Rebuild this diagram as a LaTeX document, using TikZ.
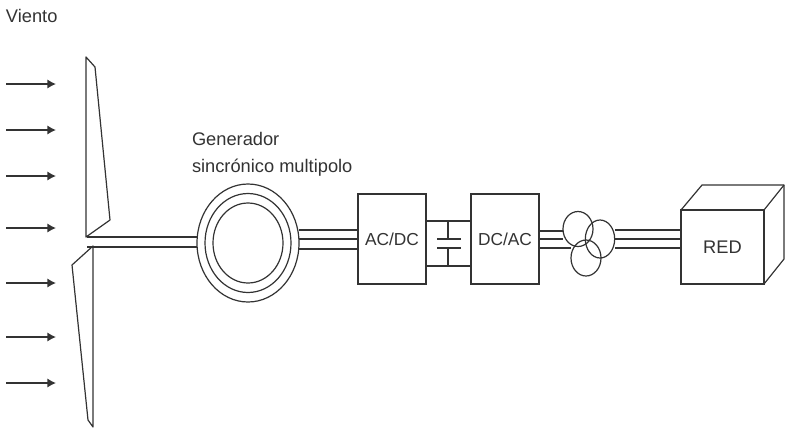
\documentclass[tikz,border=0pt]{standalone}
\usepackage{fontspec}
\setmainfont{Liberation Sans}
\usetikzlibrary{shapes.geometric,arrows.meta}
\definecolor{ink}{HTML}{333333}
\tikzset{
  ln/.style={draw=ink,line width=0.9pt},
  wind/.style={draw=ink,line width=1.15pt,-{Latex[length=6.5pt,width=7pt]}},
  lab/.style={inner sep=0pt,outer sep=0pt,text=ink,anchor=base west,font=\fontsize{13.7}{15}\selectfont},
  boxn/.style={ln,rectangle,inner sep=0pt,outer sep=0pt,minimum width=51pt,minimum height=67.5pt,text=ink,font=\fontsize{13}{15}\selectfont},
  ring/.style={ln,ellipse,inner sep=0pt,outer sep=0pt},
  coil/.style={ln,ellipse,inner sep=0pt,outer sep=0pt},
}
\begin{document}
\begin{tikzpicture}[x=0.75pt,y=-0.75pt]
\useasboundingbox (0,0) rectangle (787,429);
\fill[white] (0,0) rectangle (787,429);
% labels
\node[lab] (viento) at (6,22) {Viento};
\node[lab] (gen1) at (192,145) {Generador};
\node[lab] (gen2) at (192,172) {sincrónico multipolo};
% wind
\foreach \n/\y in {a/84,b/130,c/176,d/228,e/283,f/337,g/383}{
  \coordinate (w\n s) at (6,\y);
  \coordinate (w\n e) at (56,\y);
  \draw[wind] (w\n s) -- (w\n e);
}
% rotor
\draw[ln,line join=round] (86,57) -- (95,67) -- (110,220) -- (86,237) -- cycle;
\draw[ln,line join=round] (93,246) -- (72,265) -- (88,420) -- (93,427) -- cycle;
% generator
\node[ring,minimum width=76.5pt,minimum height=88.5pt] (gen) at (248,243) {};
\node[ring,minimum width=64.5pt,minimum height=74.25pt] (genm) at (248,243) {};
\node[ring,minimum width=52.5pt,minimum height=60pt] (geni) at (248,243) {};
% shaft
\coordinate (hub) at (87,242);
\draw[ln] (hub |- 0,237) -- (gen.west |- 0,237);
\draw[ln] (hub |- 0,247) -- (gen.west |- 0,247);
% converters
\node[boxn] (acdc) at (392,239) {AC/DC};
\node[boxn] (dcac) at (505,239) {DC/AC};
\foreach \y in {230,239,249}{
  \draw[ln] (299,\y) -- (acdc.west |- 0,\y);
}
% DC link
\coordinate (captop) at (448,239);
\coordinate (capbot) at (448,248);
\draw[ln] (acdc.east |- 0,221) -- (dcac.west |- 0,221);
\draw[ln] (acdc.east |- 0,266) -- (dcac.west |- 0,266);
\draw[ln] (448,221) -- (captop);
\draw[ln] (448,266) -- (capbot);
\draw[ln] (437,239) -- (461,239);
\draw[ln] (437,248) -- (461,248);
% transformer
\node[coil,minimum width=22.5pt,minimum height=26.25pt] (t1) at (578,229) {};
\node[coil,minimum width=22pt,minimum height=28.5pt] (t2) at (600,239) {};
\node[coil,minimum width=22.5pt,minimum height=27pt] (t3) at (586,258) {};
\draw[ln] (dcac.east |- 0,231) -- (563,231);
\draw[ln] (dcac.east |- 0,239) -- (563,239);
\draw[ln] (dcac.east |- 0,248) -- (571,248);
% RED
\node[boxn,minimum width=62.25pt,minimum height=55.5pt,font=\fontsize{13.7}{15}\selectfont] (red) at (722.5,247) {RED};
\draw[ln,line join=round] (red.north west) -- (702,185) -- (784,185) -- (784,259) -- (red.south east);
\draw[ln] (784,185) -- (red.north east);
\foreach \y in {230,239,248}{
  \draw[ln] (615,\y) -- (red.west |- 0,\y);
}
\end{tikzpicture}
\end{document}
